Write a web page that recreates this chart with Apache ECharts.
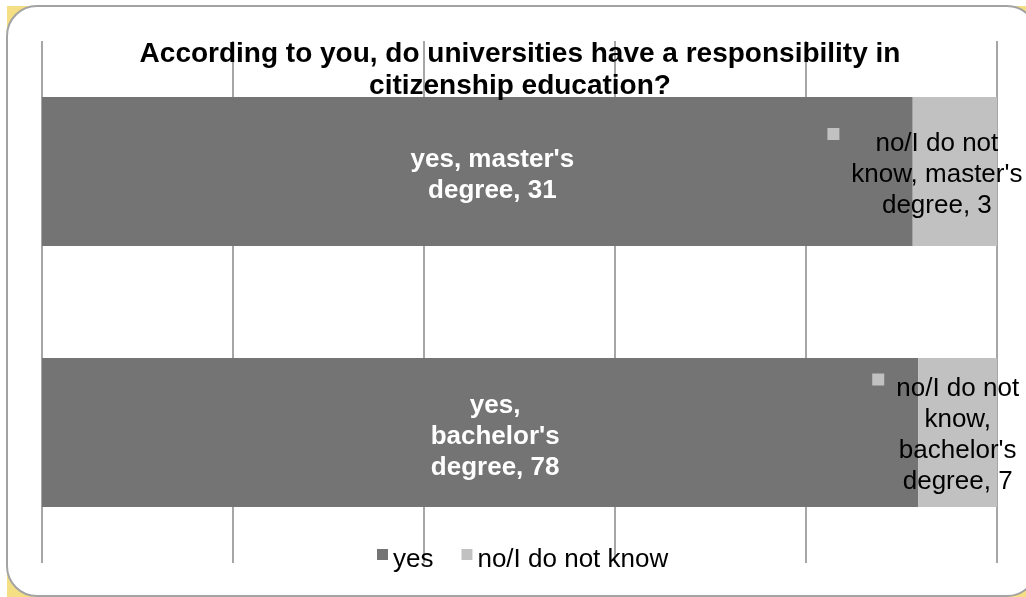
<!DOCTYPE html>
<html>
<head>
<meta charset="utf-8">
<script src="https://cdn.jsdelivr.net/npm/echarts@6/dist/echarts.min.js"></script>
<style>
  html, body { margin: 0; padding: 0; background: #ffffff; }
  #main { width: 1026px; height: 597px; }
</style>
</head>
<body>
<div id="main"></div>
<script>
// ---- data ----
const titleText = 'According to you, do universities have a responsibility in\ncitizenship education?';
const categories = ["bachelor's degree", "master's degree"]; // bottom to top
const seriesNames = ['yes', 'no/I do not know'];
const yesCounts = [78, 31];
const noCounts = [7, 3];
const xTicks = [0, 20, 40, 60, 80, 100];

// ---- derived (100% stacked) ----
const totals = yesCounts.map((v, i) => v + noCounts[i]);
const yesPct = yesCounts.map((v, i) => v / totals[i] * 100);
const noPct = noCounts.map((v, i) => v / totals[i] * 100);

const FONT = '"Liberation Sans", Arial, Helvetica, sans-serif';
const DARK = '#747474';
const LIGHT = '#c1c1c1';

function catParts(i) {
  const words = categories[i].split(' ');
  return [words[0], words.slice(1).join(' ')];
}

const chart = echarts.init(document.getElementById('main'), null, { renderer: 'canvas' });

const yesData = yesPct.map((v, i) => ({ value: v }));
const noData = noPct.map((v, i) => ({
  value: v,
  label: { offset: i === 1 ? [-18, 3] : [0, 3] }
}));

chart.setOption({
  backgroundColor: '#ffffff',
  animation: false,
  graphic: [{
    type: 'rect',
    silent: true,
    z: -20,
    shape: { x: 7, y: 6, width: 1030, height: 591 },
    style: { fill: '#f4df84' }
  }, {
    type: 'rect',
    silent: true,
    z: -10,
    shape: { x: 7, y: 6, width: 1030, height: 590, r: 30 },
    style: { fill: '#ffffff', stroke: '#a3a3a3', lineWidth: 2 }
  }],
  title: {
    text: titleText,
    left: 515,
    top: 33,
    textAlign: 'center',
    textStyle: { fontFamily: FONT, fontSize: 28, fontWeight: 'bold', color: '#000', lineHeight: 32 }
  },
  legend: {
    data: seriesNames,
    left: 377,
    top: 547,
    padding: 0,
    icon: 'path://M0,0L11,0L11,11L0,11Z M0,22L0.01,22L0.01,22.01Z',
    itemWidth: 11,
    itemHeight: 22,
    itemGap: 28,
    textStyle: { fontFamily: FONT, fontSize: 26, color: '#000' }
  },
  grid: { left: 42, right: 29, top: 41, bottom: 34, containLabel: false },
  xAxis: {
    type: 'value',
    min: xTicks[0],
    max: xTicks[xTicks.length - 1],
    interval: xTicks[1] - xTicks[0],
    axisLabel: { show: false },
    axisLine: { show: false },
    axisTick: { show: false },
    splitLine: { show: true, lineStyle: { color: '#a6a6a6', width: 2 } }
  },
  yAxis: {
    type: 'category',
    data: categories,
    axisLabel: { show: false },
    axisLine: { show: false },
    axisTick: { show: false },
    splitLine: { show: false }
  },
  series: [
    {
      name: seriesNames[0],
      type: 'bar',
      stack: 'total',
      barCategoryGap: '43%',
      itemStyle: { color: DARK },
      data: yesData,
      label: {
        show: true,
        position: 'inside',
        offset: [15, 4],
        color: '#ffffff',
        fontFamily: FONT,
        fontWeight: 'bold',
        fontSize: 26,
        lineHeight: 31,
        formatter: p => {
          const [a, b] = catParts(p.dataIndex);
          const v = yesCounts[p.dataIndex];
          return p.dataIndex === 1
            ? `${p.seriesName}, ${a}\n${b}, ${v}`
            : `${p.seriesName},\n${a}\n${b}, ${v}`;
        }
      }
    },
    {
      name: seriesNames[1],
      type: 'bar',
      stack: 'total',
      barCategoryGap: '43%',
      itemStyle: { color: LIGHT },
      data: noData,
      label: {
        show: true,
        position: 'inside',
        color: '#000',
        fontFamily: FONT,
        fontSize: 26,
        lineHeight: 31,
        formatter: p => {
          const [a, b] = catParts(p.dataIndex);
          const v = noCounts[p.dataIndex];
          const parts = p.seriesName.split(' ');
          const l1 = parts.slice(0, 3).join(' ');
          const l2 = parts.slice(3).join(' ');
          if (p.dataIndex === 1) {
            return `{m| }{g1| }{t|${l1}}{p1| }\n{t|${l2}, ${a}}\n{t|${b}, ${v}}`;
          }
          return `{m| }{g2| }{t|${l1}}{p2| }\n{t|${l2},}\n{t|${a}}\n{t|${b}, ${v}}`;
        },
        rich: {
          m: { width: 12, height: 12, backgroundColor: LIGHT, align: 'center', verticalAlign: 'top' },
          g1: { width: 36, align: 'center' },
          g2: { width: 12, align: 'center' },
          p1: { width: 48, align: 'center' },
          p2: { width: 24, align: 'center' },
          t: { fontFamily: FONT, fontSize: 26, lineHeight: 31, color: '#000', align: 'center' }
        }
      }
    }
  ]
});
</script>
</body>
</html>
